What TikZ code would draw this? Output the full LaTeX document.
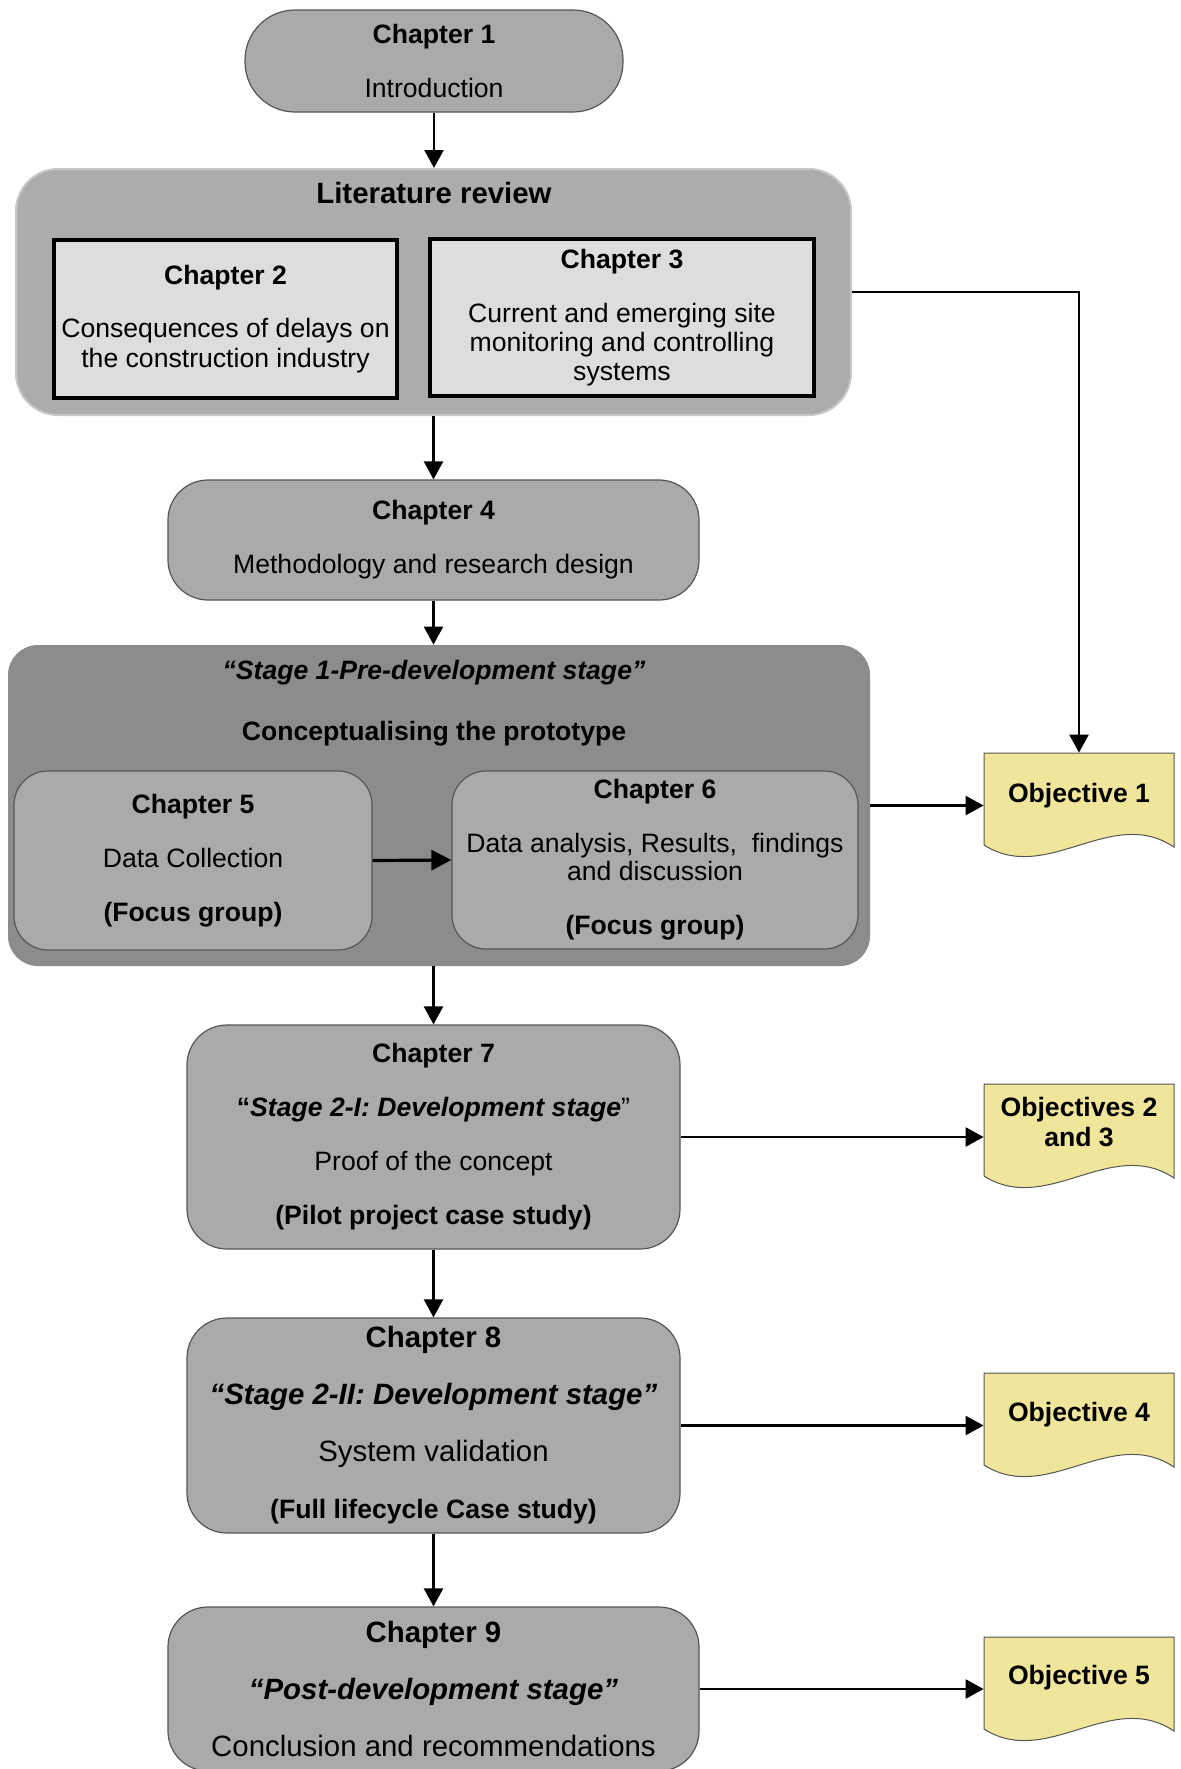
\documentclass[tikz,border=0pt]{standalone}
\usepackage{fontspec}
\setmainfont{Liberation Sans}
\usetikzlibrary{arrows.meta}

\definecolor{chapfill}{RGB}{170,170,170}
\definecolor{stagefill}{RGB}{140,140,140}
\definecolor{litfill}{RGB}{172,172,172}
\definecolor{reviewfill}{RGB}{221,221,221}
\definecolor{objfill}{RGB}{240,230,155}
\definecolor{edgegray}{RGB}{85,85,85}
\definecolor{softedge}{RGB}{200,200,200}

\begin{document}
\begin{tikzpicture}[x=0.5pt,y=-0.5pt,
  chapbox/.style={draw=edgegray, line width=0.6pt, fill=chapfill,
    rounded corners=20pt, align=center, inner sep=0pt,
    font=\fontsize{13.3}{13.5}\selectfont},
  bigchap/.style={chapbox, font=\fontsize{14.7}{14.25}\selectfont},
  reviewbox/.style={draw=black, line width=1.75pt, fill=reviewfill,
    align=center, inner sep=0pt},
  objtext/.style={minimum width=95pt, minimum height=38pt, inner sep=0pt,
    align=center, font=\bfseries\fontsize{13.3}{15}\selectfont},
  objshape/.style={draw=edgegray, line width=0.5pt, fill=objfill},
  title/.style={inner sep=1pt, font=\bfseries\fontsize{13.3}{13.5}\selectfont},
  link/.style={line width=1.2pt, -{Triangle[length=9pt,width=9.5pt]}},
]
\useasboundingbox (0,0) rectangle (1181,1769);
\clip (0,0) rectangle (1181,1769);

% Chapter 1
\node[chapbox, rounded corners=25pt, minimum width=189pt, minimum height=51pt]
  (ch1) at (434,61) {\textbf{Chapter 1}\\[13.5pt]Introduction};

% Literature review container
\node[draw=softedge, line width=1pt, fill=litfill, rounded corners=21pt,
  minimum width=417.5pt, minimum height=123pt, inner sep=0pt]
  (lit) at (433.5,292) {};
\node[title, font=\bfseries\fontsize{14.7}{15}\selectfont] (littitle) at (434,193) {Literature review};
\node[reviewbox, minimum width=171.5pt, minimum height=79pt,
  font=\fontsize{13.3}{15}\selectfont]
  (ch2) at (225.5,319) {\textbf{Chapter 2}\\[11.5pt]Consequences of delays on\\the construction industry};
\node[reviewbox, minimum width=192pt, minimum height=78.5pt,
  font=\fontsize{13.3}{14.5}\selectfont]
  (ch3) at (622,317.5) {\textbf{Chapter 3}\\[12.5pt]Current and emerging site\\monitoring and controlling\\systems};

% Chapter 4
\node[chapbox, minimum width=265.5pt, minimum height=60pt]
  (ch4) at (433.5,540) {\textbf{Chapter 4}\\[13.5pt]Methodology and research design};

% Stage 1 container
\node[fill=stagefill, rounded corners=15pt, minimum width=431pt,
  minimum height=160.5pt, inner sep=0pt] (s1) at (439,805.5) {};
\node[title, font=\bfseries\itshape\fontsize{13.3}{13.5}\selectfont] (s1stage) at (434,673)
  {“Stage 1-Pre-development stage”};
\node[title] (s1concept) at (434,734) {Conceptualising the prototype};
\node[chapbox, rounded corners=17pt, minimum width=179pt, minimum height=89.5pt]
  (ch5) at (193,860.5) {\textbf{Chapter 5}\\[13.5pt]Data Collection\\[13.5pt]\textbf{(Focus group)}};
\node[chapbox, rounded corners=17pt, minimum width=203pt, minimum height=89pt,
  font=\fontsize{13.3}{14}\selectfont]
  (ch6) at (655,860) {\textbf{Chapter 6}\\[13pt]Data analysis, Results,\ \ findings\\and discussion\\[13pt]\textbf{(Focus group)}};

% Chapters 7 to 9
\node[chapbox, minimum width=246.5pt, minimum height=112pt]
  (ch7) at (433.5,1137) {\textbf{Chapter 7}\\[13.5pt]\textbf{“}\textbf{\itshape Stage 2-I: Development stage}”\\[13.5pt]Proof of the concept\\[13.5pt]\textbf{(Pilot project case study)}};
\node[bigchap, minimum width=246.5pt, minimum height=107.5pt]
  (ch8) at (433.5,1425.5) {\textbf{Chapter 8}\\[14.25pt]\textbf{\itshape “Stage 2-II: Development stage”}\\[14.25pt]System validation\\[14.25pt]{\fontsize{13.3}{14.25}\selectfont\textbf{(Full lifecycle Case study)}}};
\node[bigchap, minimum width=265.5pt, minimum height=82pt]
  (ch9) at (433.5,1689) {\textbf{Chapter 9}\\[14.25pt]\textbf{\itshape “Post-development stage”}\\[14.25pt]Conclusion and recommendations};

% Objectives: document shapes with a wavy lower edge
\foreach \top in {753,1084,1373,1637}{
  \draw[objshape, shift={(984,\top)}] (0,0) -- (190,0) -- (190,94)
    .. controls (127,52) and (63,132) .. (0,92) -- cycle;
}
\node[objtext] (o1) at (1079,791) {\raisebox{-2.25pt}[\height][\depth]{Objective 1}};
\node[objtext] (o23) at (1079,1122) {Objectives 2\\and 3};
\node[objtext] (o4) at (1079,1411) {\raisebox{-1.7pt}[\height][\depth]{Objective 4}};
\node[objtext] (o5) at (1079,1675) {\raisebox{-1.1pt}[\height][\depth]{Objective 5}};

% Connectors
\draw[link] (ch1.south) -- (ch1.south |- lit.north);
\draw[link] (lit.south -| ch4.north) -- (ch4.north);
\draw[link] (ch4.south) -- (ch4.south |- s1.north);
\draw[link] (s1.south -| ch7.north) -- (ch7.north);
\draw[link] (ch7.south) -- (ch8.north);
\draw[link] (ch8.south) -- (ch9.north);
\draw[line width=1.6pt, -{Triangle[length=10pt,width=10pt]}] (ch5.east) -- (ch6.west);
\draw[link] (lit.east) -| (o1.north);
\draw[link] (s1.east) -- (s1.east -| o1.west);
\draw[link] (ch7.east) -- (ch7.east -| o23.west);
\draw[link] (ch8.east) -- (ch8.east -| o4.west);
\draw[link] (ch9.east) -- (ch9.east -| o5.west);
\end{tikzpicture}
\end{document}
